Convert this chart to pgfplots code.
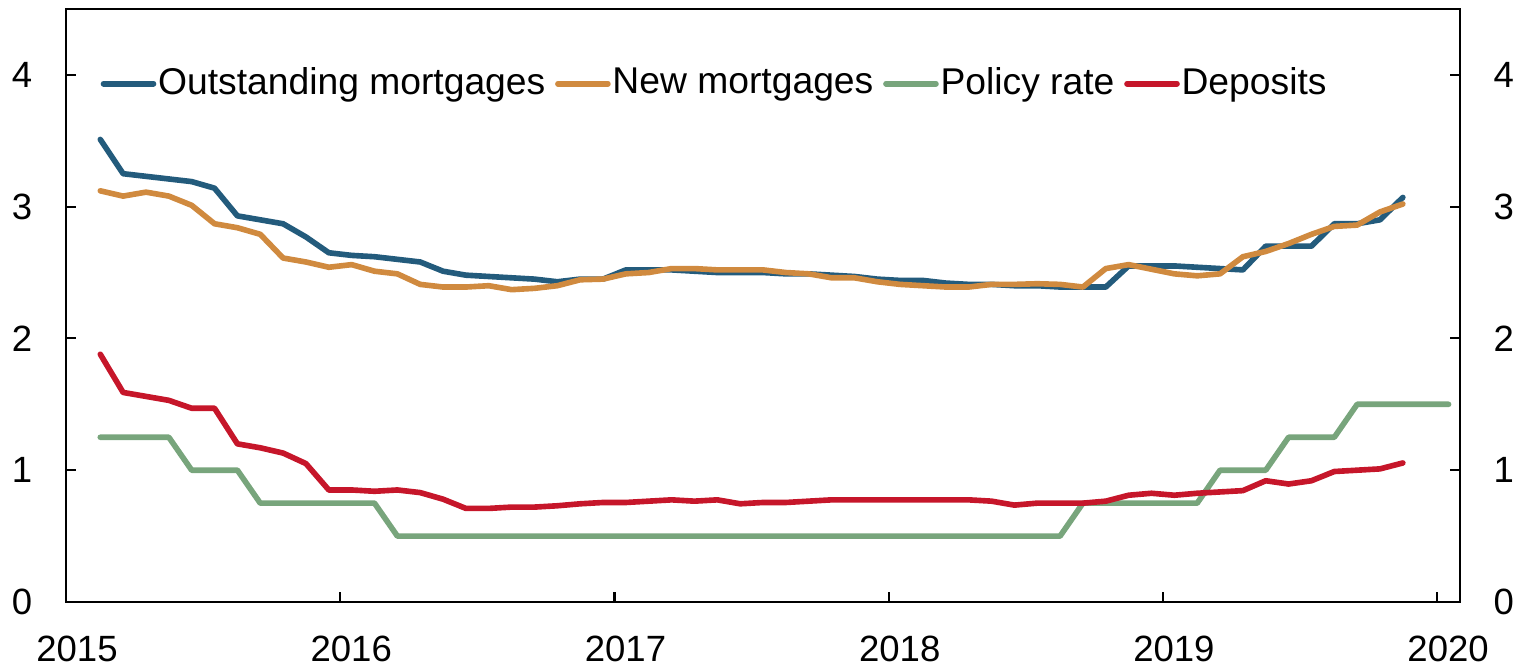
\documentclass[border=0pt]{standalone}
\usepackage{fontspec}
\setmainfont{Liberation Sans}
\usepackage{pgfplots}
\usepackage{pgfplotstable}
\pgfplotsset{compat=1.18}

\definecolor{outblue}{RGB}{35,91,124}
\definecolor{neworange}{RGB}{208,138,63}
\definecolor{polgreen}{RGB}{120,165,124}
\definecolor{depred}{RGB}{198,22,42}

% x = months since Jan 2015 (mid-month points)
\pgfplotstableread{
m    out   new    dep
1.5  3.51  3.12   1.88
2.5  3.25  3.08   1.59
3.5  3.23  3.11   1.56
4.5  3.21  3.08   1.53
5.5  3.19  3.01   1.47
6.5  3.14  2.87   1.47
7.5  2.93  2.84   1.20
8.5  2.90  2.79   1.17
9.5  2.87  2.61   1.13
10.5 2.77  2.58   1.05
11.5 2.65  2.54   0.85
12.5 2.63  2.56   0.85
13.5 2.62  2.51   0.84
14.5 2.60  2.49   0.85
15.5 2.58  2.41   0.83
16.5 2.51  2.39   0.78
17.5 2.48  2.39   0.71
18.5 2.47  2.40   0.71
19.5 2.46  2.37   0.72
20.5 2.45  2.38   0.72
21.5 2.43  2.40   0.73
22.5 2.45  2.445  0.745
23.5 2.45  2.45   0.755
24.5 2.52  2.49   0.755
25.5 2.52  2.50   0.765
26.5 2.52  2.53   0.775
27.5 2.51  2.53   0.765
28.5 2.50  2.52   0.775
29.5 2.50  2.52   0.745
30.5 2.50  2.52   0.755
31.5 2.49  2.50   0.755
32.5 2.49  2.49   0.765
33.5 2.48  2.46   0.775
34.5 2.47  2.46   0.775
35.5 2.45  2.43   0.775
36.5 2.44  2.41   0.775
37.5 2.44  2.40   0.775
38.5 2.42  2.39   0.775
39.5 2.41  2.39   0.775
40.5 2.41  2.41   0.765
41.5 2.40  2.41   0.735
42.5 2.40  2.415  0.75
43.5 2.39  2.41   0.75
44.5 2.39  2.39   0.75
45.5 2.39  2.53   0.765
46.5 2.55  2.56   0.81
47.5 2.55  2.525  0.825
48.5 2.55  2.49   0.81
49.5 2.54  2.475  0.825
50.5 2.53  2.49   0.835
51.5 2.52  2.62   0.845
52.5 2.70  2.66   0.92
53.5 2.70  2.72   0.895
54.5 2.70  2.79   0.92
55.5 2.87  2.85   0.99
56.5 2.87  2.86   1.00
57.5 2.90  2.96   1.01
58.5 3.07  3.02   1.055
}\ratestable

\pgfplotstableread{
m    pol
1.5  1.25
2.5  1.25
3.5  1.25
4.5  1.25
5.5  1.00
6.5  1.00
7.5  1.00
8.5  0.75
9.5  0.75
10.5 0.75
11.5 0.75
12.5 0.75
13.5 0.75
14.5 0.50
15.5 0.50
16.5 0.50
17.5 0.50
18.5 0.50
19.5 0.50
20.5 0.50
21.5 0.50
22.5 0.50
23.5 0.50
24.5 0.50
25.5 0.50
26.5 0.50
27.5 0.50
28.5 0.50
29.5 0.50
30.5 0.50
31.5 0.50
32.5 0.50
33.5 0.50
34.5 0.50
35.5 0.50
36.5 0.50
37.5 0.50
38.5 0.50
39.5 0.50
40.5 0.50
41.5 0.50
42.5 0.50
43.5 0.50
44.5 0.75
45.5 0.75
46.5 0.75
47.5 0.75
48.5 0.75
49.5 0.75
50.5 1.00
51.5 1.00
52.5 1.00
53.5 1.25
54.5 1.25
55.5 1.25
56.5 1.50
57.5 1.50
58.5 1.50
59.5 1.50
60.5 1.50
}\policytable

\pgfplotsset{
  ratebase/.style={
    width=13.94cm, height=5.93cm, scale only axis,
    xmin=0, xmax=61, ymin=0, ymax=4.5,
    ytick={0,1,2,3,4},
    tick align=inside,
    major tick length=0.1cm,
    every tick/.style={black, line width=0.6pt},
    tick label style={font=\fontsize{10.4}{12}\selectfont, inner sep=0pt},
    /pgf/number format/assume math mode=true,
  },
}

\begin{document}
\begin{tikzpicture}
\begin{axis}[
    ratebase,
    axis line style={black, line width=0.6pt},
    xtick={0,12,24,36,48,60},
    xticklabels={2015,2016,2017,2018,2019,2020},
    xtick pos=bottom,
    ytick pos=left,
    xticklabel style={yshift=-0.335cm, xshift=0.11cm},
    yticklabel style={xshift=-0.33cm},
    legend columns=-1,
    legend style={at={(rel axis cs:0.0244,0.874)}, anchor=west, draw=none, fill=none,
      inner xsep=0pt, inner ysep=0pt,
      font=\fontsize{10.6}{12}\selectfont,
      nodes={inner xsep=0.5pt},
      /tikz/every even column/.append style={column sep=0.08cm}},
    legend image code/.code={\draw[#1, line cap=round] (0cm,0cm) -- (0.5cm,0cm);},
    every axis plot/.append style={line width=1.6pt, line cap=round, line join=round},
]
\addplot[outblue] table[x=m, y=out] {\ratestable};
\addplot[neworange] table[x=m, y=new] {\ratestable};
\addplot[polgreen] table[x=m, y=pol] {\policytable};
\addplot[depred] table[x=m, y=dep] {\ratestable};
\legend{Outstanding mortgages, New mortgages, Policy rate, Deposits}
\end{axis}
\begin{axis}[
    ratebase,
    axis line style={draw=none},
    xtick=\empty,
    ytick pos=right,
    yticklabel pos=right,
    yticklabel style={xshift=0.33cm},
]
\end{axis}
\path ([shift={(-0.66cm,-0.64cm)}]current axis.south west) rectangle ([shift={(0.56cm,0.09cm)}]current axis.north east);
\end{tikzpicture}
\end{document}
